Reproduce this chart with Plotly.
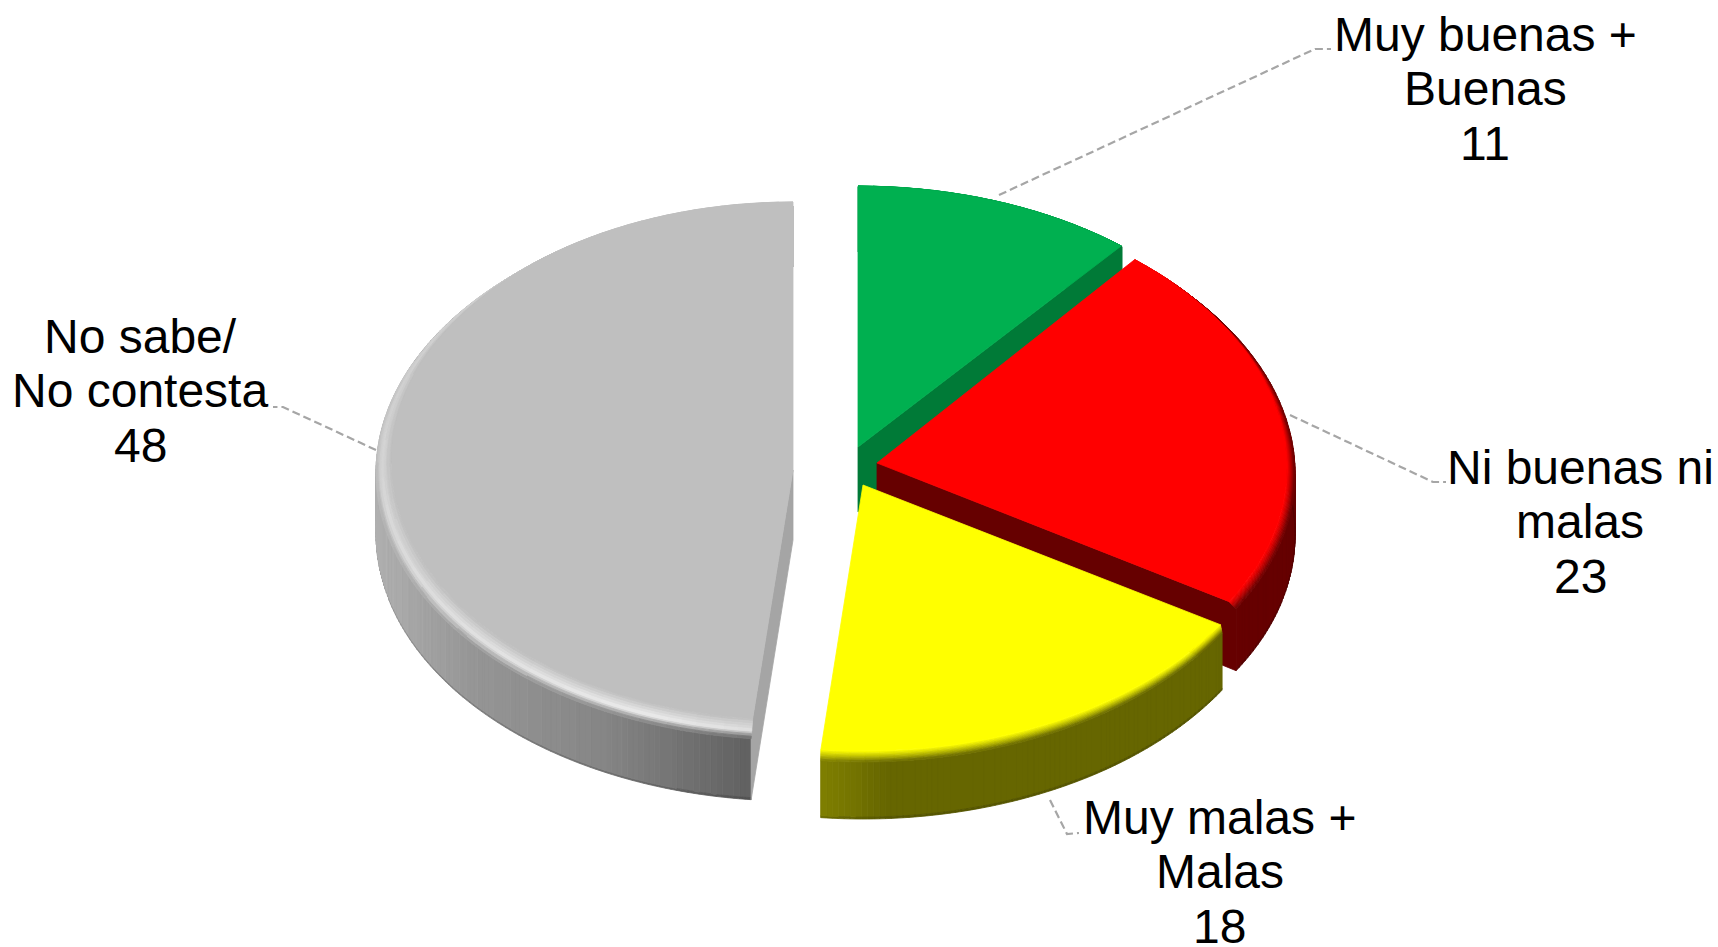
import math
import plotly.graph_objects as go

# ---- data ----
labels = ["Muy buenas +<br>Buenas<br>11", "Ni buenas ni<br>malas<br>23",
          "Muy malas +<br>Malas<br>18", "No sabe/<br>No contesta<br>48"]
values = [11, 23, 18, 48]                 # printed (rounded) values
shares = [11.0, 22.8, 17.8, 48.4]         # unrounded shares
colors_top = ["#00B050", "#FF0000", "#FFFF00", "#BFBFBF"]
colors_wall = ["#007A37", "#660000", "#666600", "#A5A5A5"]

# ---- layout of the exploded, tilted pie (pixels of the figure) ----
W, H = 1718, 947
apex = [(858, 447), (877, 463), (863, 485), (793, 470)]
# inner ellipse: rx, ry, y shift; outer ellipse: rx, ry, y shift; wall depth; perspective
geom = [
    dict(ri=(413, 261, 0), ro=(414, 261, 1), d=65, k=0.0),
    dict(ri=(410, 264, 0), ro=(418, 266, 6), d=62, k=0.018),
    dict(ri=(420, 266, 0), ro=(422, 271.5, 5.5), d=57, k=0.0),
    dict(ri=(402, 259, -9), ro=(417, 267, 3), d=61, k=0.0),
]
label_pos = [(1485, 34), (1580, 467), (1219.5, 817), (140, 336)]
line_pitch = 54.7
leaders = [
    ([999, 1315, 1331], [195, 49, 49]),
    ([1290, 1433, 1446], [415, 482, 482]),
    ([1050, 1067, 1079], [800, 834, 833]),
    ([376, 283, 273], [450, 407, 407]),
]

# ---- helpers ----
def hex2rgb(h):
    return tuple(int(h[i:i + 2], 16) for i in (1, 3, 5))

def mix(a, b, t):
    return tuple(a[i] + (b[i] - a[i]) * t for i in range(3))

def css(c, q=2):
    return "rgb(%d,%d,%d)" % tuple(min(255, int(round(v / q) * q)) for v in c)

def ell(i, th, which):
    (ax, ay) = apex[i]
    rx, ry, dy = geom[i][which]
    k = geom[i]["k"]
    return ax + rx * (1 - k * math.cos(th)) * math.sin(th), ay + dy - ry * math.cos(th)

fig = go.Figure()

def add_group(polys):
    """polys: list of (css colour, xs, ys); painted in groups of equal colour."""
    groups = {}
    for col, xs, ys in polys:
        g = groups.setdefault(col, ([], []))
        g[0].extend(list(xs) + [xs[0], None])
        g[1].extend(list(ys) + [ys[0], None])
    for col, (xs, ys) in groups.items():
        fig.add_trace(go.Scatter(x=xs, y=ys, mode="lines", fill="toself", fillcolor=col,
                                 line=dict(color=col, width=0.8), hoverinfo="skip",
                                 showlegend=False))

def arc_steps(t0, t1, step=math.radians(2.5)):
    n = max(2, int(abs(t1 - t0) / step))
    return [t0 + (t1 - t0) * k / n for k in range(n + 1)]

def wall_color(i, x):
    if i == 3:  # grey wall: brighter at the left, darker to the right
        stops = [(376, 176), (470, 150), (600, 134), (753, 96)]
        for (x0, v0), (x1, v1) in zip(stops, stops[1:]):
            if x <= x1:
                v = v0 + (v1 - v0) * max(0, (x - x0)) / (x1 - x0)
                return (v, v, v)
        return (96, 96, 96)
    if i == 2:  # olive wall: lighter at its left end
        t = min(1, max(0, (x - 819) / 70))
        return mix((128, 128, 0), (102, 102, 0), t)
    return hex2rgb(colors_wall[i])

def rim_peak(i, th):
    if i != 3:
        return None
    deg = math.degrees(th)
    pts = [(185, 222), (200, 236), (230, 226), (270, 214), (300, 208), (340, 196), (361, 191)]
    for (a0, v0), (a1, v1) in zip(pts, pts[1:]):
        if deg <= a1:
            return v0 + (v1 - v0) * (deg - a0) / (a1 - a0)
    return 191

# slice angles come from the shares
total = sum(shares)
angles, run = [], 0.0
for s in shares:
    a0 = run / total * 2 * math.pi
    run += s
    angles.append((a0, run / total * 2 * math.pi))

def lerp(p, q, u):
    return p[0] + (q[0] - p[0]) * u, p[1] + (q[1] - p[1]) * u

def draw_slice(i):
    t0, t1 = angles[i]
    d = geom[i]["d"]
    ths = arc_steps(t0, t1, math.radians(0.8))
    ax, ay = apex[i]
    top = hex2rgb(colors_top[i])
    polys = []
    # outer wall
    for a, b in zip(ths, ths[1:]):
        xa, ya = ell(i, a, "ro")
        xb, yb = ell(i, b, "ro")
        c = wall_color(i, (xa + xb) / 2)
        polys.append((css(c), [xa, xb, xb, xa], [ya, yb, yb + d - 2, ya + d - 2]))
        dark = mix(c, (0, 0, 0), 0.16)
        polys.append((css(dark), [xa, xb, xb, xa], [ya + d - 2, yb + d - 2, yb + d, ya + d]))
    add_group(polys)
    # radial wall facing the viewer
    if i in (0, 1, 3):
        end = t1 if i != 3 else t0
        xi, yi = ell(i, end, "ri")
        xo, yo = ell(i, end, "ro")
        back = 70 if i == 3 else d
        add_group([(colors_wall[i], [ax, xi, xo, xo, ax],
                    [ay, yi, yo, yo + d, ay + back])])
    # bevelled rim
    polys = []
    levels = 8
    ths = arc_steps(t0, t1, math.radians(2))
    for k in range(levels):
        u0, u1 = k / levels, (k + 1) / levels
        um = (u0 + u1) / 2
        for a, b in zip(ths, ths[1:]):
            pa0, pa1 = ell(i, a, "ri"), ell(i, a, "ro")
            pb0, pb1 = ell(i, b, "ri"), ell(i, b, "ro")
            q1, q2 = lerp(pa0, pa1, u0), lerp(pb0, pb1, u0)
            q3, q4 = lerp(pb0, pb1, u1), lerp(pa0, pa1, u1)
            wall = wall_color(i, (pa1[0] + pb1[0]) / 2)
            peak = rim_peak(i, (a + b) / 2)
            if peak is None:
                c = mix(top, wall, um ** 1.2)
            else:
                deg = math.degrees((a + b) / 2)
                # the far part of the rim stays light: no dark wall behind it
                w = min(1.0, max(0.0, (300 - deg) / 40))
                edge = mix((peak, peak, peak), wall, w)
                if um < 0.6:
                    c = mix(top, (peak, peak, peak), um / 0.6)
                else:
                    c = mix((peak, peak, peak), edge, (um - 0.6) / 0.4)
            polys.append((css(c), [q1[0], q2[0], q3[0], q4[0]], [q1[1], q2[1], q3[1], q4[1]]))
    add_group(polys)
    # top face
    xs, ys = [ax], [ay]
    for a in arc_steps(t0, t1, math.radians(1)):
        x, y = ell(i, a, "ri")
        xs.append(x)
        ys.append(y)
    add_group([(colors_top[i], xs, ys)])

for i in (3, 0, 1, 2):
    draw_slice(i)

# leader lines
for lx, ly in leaders:
    fig.add_trace(go.Scatter(x=lx, y=ly, mode="lines", hoverinfo="skip", showlegend=False,
                             line=dict(color="#A6A6A6", width=2.2, dash="8px,4px")))

# labels, one annotation per line so that the pitch is exact
for (cx, cy), lab in zip(label_pos, labels):
    for k, part in enumerate(lab.split("<br>")):
        fig.add_annotation(x=cx, y=cy + k * line_pitch, text=part, showarrow=False,
                           xref="x", yref="y", xanchor="center", yanchor="middle",
                           font=dict(family="Liberation Sans, Arial, sans-serif", size=48, color="#000000"))

fig.update_layout(
    width=W, height=H, margin=dict(l=0, r=0, t=0, b=0),
    paper_bgcolor="#FFFFFF", plot_bgcolor="#FFFFFF", showlegend=False,
    xaxis=dict(range=[0, W], visible=False, fixedrange=True),
    yaxis=dict(range=[H, 0], visible=False, fixedrange=True),
)
fig.write_html("out.html", config={"displayModeBar": False},
               post_script="document.body.style.margin='0';")
